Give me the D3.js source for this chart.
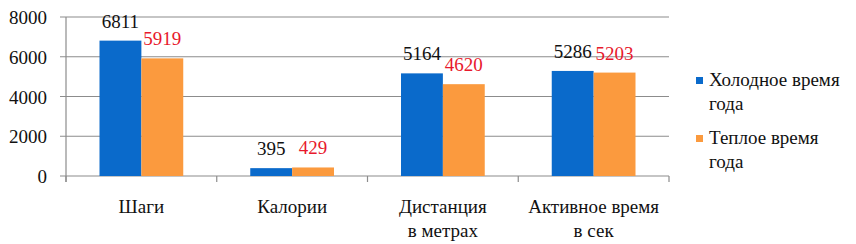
<!DOCTYPE html>
<html><head><meta charset="utf-8"><script src="https://cdn.jsdelivr.net/npm/d3@7"></script></head><body style="margin:0">
<script>
const categories = [["Шаги"],["Калории"],["Дистанция","в метрах"],["Активное время","в сек"]];
const seriesNames = [["Холодное время","года"],["Теплое время","года"]];
const cold = [6811, 395, 5164, 5286];
const warm = [5919, 429, 4620, 5203];
const yTicks = [0, 2000, 4000, 6000, 8000];
const colors = ["#0A6ACB", "#FB9A3E"];
const labelColors = ["#111", "#E8192C"];
const FONT = "Liberation Serif";

const W = 856, H = 244;
const svg = d3.select("body").append("svg").attr("width", W).attr("height", H);
const x = d3.scaleBand().domain(d3.range(categories.length)).range([66, 669]).paddingInner(0).paddingOuter(0);
const x1 = d3.scaleBand().domain([0,1]).range([0, x.bandwidth()]).paddingOuter(0.8).paddingInner(0);
const y = d3.scaleLinear().domain([0, 8000]).range([176, 17]);

svg.append("g").selectAll("line").data(yTicks).join("line")
  .attr("x1", 60).attr("x2", 669).attr("y1", d => y(d)).attr("y2", d => y(d))
  .attr("stroke", "#8c8c8c").attr("stroke-width", 1.2);
svg.append("line").attr("x1", 66).attr("x2", 66).attr("y1", y(8000)).attr("y2", 182)
  .attr("stroke", "#8c8c8c").attr("stroke-width", 1.2);
const bounds = d3.range(categories.length + 1).map(i => i < categories.length ? x(i) : x(categories.length-1) + x.bandwidth());
svg.append("g").selectAll("line").data(bounds).join("line")
  .attr("x1", d => d).attr("x2", d => d).attr("y1", 176).attr("y2", 182)
  .attr("stroke", "#8c8c8c").attr("stroke-width", 1.2);

svg.append("g").selectAll("text").data(yTicks).join("text")
  .attr("x", 47).attr("y", d => y(d) + 7).attr("text-anchor", "end")
  .attr("font-size", 19).attr("font-family", FONT).attr("fill", "#111").text(d => d);

const series = [cold, warm];
series.forEach((vals, s) => {
  const g = svg.append("g");
  g.selectAll("rect").data(vals).join("rect")
    .attr("x", (d, i) => x(i) + x1(s)).attr("width", x1.bandwidth())
    .attr("y", d => y(d)).attr("height", d => y(0) - y(d)).attr("fill", colors[s]);
  g.selectAll("text").data(vals).join("text")
    .attr("x", (d, i) => x(i) + x1(s) + x1.bandwidth()/2).attr("y", d => y(d) - 13)
    .attr("text-anchor", "middle").attr("font-size", 19).attr("font-family", FONT).attr("fill", labelColors[s]).text(d => d);
});

const catRows = categories.flatMap((c, i) => c.map((t, j) => ({t, i, j})));
svg.append("g").selectAll("text").data(catRows).join("text")
  .attr("x", d => x(d.i) + x.bandwidth()/2).attr("y", d => 213 + d.j * 24)
  .attr("text-anchor", "middle").attr("font-size", 19).attr("font-family", FONT).attr("fill", "#111").text(d => d.t);

const lg = svg.append("g").selectAll("g").data(seriesNames).join("g")
  .attr("transform", (d, i) => `translate(696,${77 + i*58})`);
lg.append("rect").attr("width", 7).attr("height", 7).attr("fill", (d, i) => colors[i]);
lg.selectAll("text").data(d => d).join("text").attr("x", 13).attr("y", (d, j) => 9 + j * 24)
  .attr("font-size", 19).attr("font-family", FONT).attr("fill", "#111").text(d => d);
</script>
</body></html>
